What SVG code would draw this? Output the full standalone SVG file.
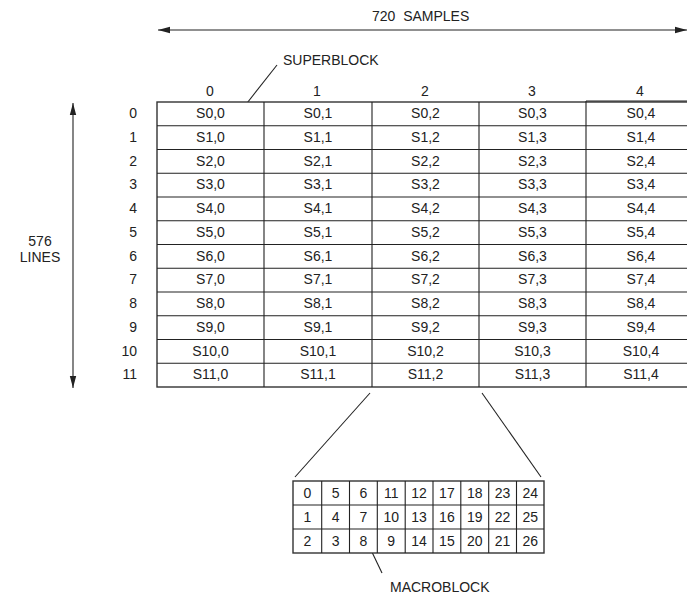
<svg xmlns="http://www.w3.org/2000/svg" width="687" height="598" viewBox="0 0 687 598">
<defs>
<marker id="ah" markerWidth="12" markerHeight="8" refX="12" refY="4" orient="auto-start-reverse" markerUnits="userSpaceOnUse">
<path d="M0,0.8 L12,4 L0,7.2 Z" fill="#222"/>
</marker>
<style>
text{font-family:"Liberation Sans",Arial,sans-serif;font-size:14px;fill:#222}
.c{text-anchor:middle}
.r{text-anchor:end}
.ln{stroke:#222;stroke-width:1.1;fill:none}
.tb{stroke:#333;stroke-width:1.4;fill:#fff}
</style>
</defs>
<rect width="687" height="598" fill="#fff"/>
<g id="connectors">
<line class="ln" x1="158" y1="30" x2="687" y2="30" marker-start="url(#ah)" marker-end="url(#ah)"/>
<line class="ln" x1="73" y1="103" x2="73" y2="388" marker-start="url(#ah)" marker-end="url(#ah)"/>
<line class="ln" x1="277" y1="65" x2="240" y2="112"/>
<line class="ln" x1="370" y1="393" x2="295" y2="477"/>
<line class="ln" x1="482" y1="393" x2="541" y2="477"/>
<line class="ln" x1="370" y1="548" x2="382" y2="573"/>
</g>
<g id="labels">
<text x="372" y="21">720&#160; SAMPLES</text>
<text x="283" y="65">SUPERBLOCK</text>
<text class="c" x="40" y="246">576</text>
<text class="c" x="40" y="262">LINES</text>
<text x="390" y="592">MACROBLOCK</text>
</g>
<g id="colheaders">
<text class="c" x="210" y="96">0</text>
<text class="c" x="317" y="96">1</text>
<text class="c" x="425" y="96">2</text>
<text class="c" x="532" y="96">3</text>
<text class="c" x="640" y="96">4</text>
</g>
<g id="rowheaders">
<text class="r" x="137" y="118">0</text>
<text class="r" x="137" y="141.7">1</text>
<text class="r" x="137" y="165.5">2</text>
<text class="r" x="137" y="189.2">3</text>
<text class="r" x="137" y="213">4</text>
<text class="r" x="137" y="236.7">5</text>
<text class="r" x="137" y="260.5">6</text>
<text class="r" x="137" y="284.2">7</text>
<text class="r" x="137" y="308">8</text>
<text class="r" x="137" y="331.7">9</text>
<text class="r" x="137" y="355.5">10</text>
<text class="r" x="137" y="379.2">11</text>
</g>
<g id="superblocks">
<rect class="tb" x="157" y="102" width="531" height="285"/>
<path class="ln" stroke-width="1.4" d="M264,102V387M372,102V387M479,102V387M586,101V387M586,101H687M157,125.75H687M157,149.5H687M157,173.25H687M157,197H687M157,220.75H687M157,244.5H687M157,268.25H687M157,292H687M157,315.75H687M157,339.5H687M157,363.25H687"/>
<text class="c" x="210.5" y="118">S0,0</text><text class="c" x="318" y="118">S0,1</text><text class="c" x="425.5" y="118">S0,2</text><text class="c" x="532.5" y="118">S0,3</text><text class="c" x="641" y="118">S0,4</text>
<text class="c" x="210.5" y="141.7">S1,0</text><text class="c" x="318" y="141.7">S1,1</text><text class="c" x="425.5" y="141.7">S1,2</text><text class="c" x="532.5" y="141.7">S1,3</text><text class="c" x="641" y="141.7">S1,4</text>
<text class="c" x="210.5" y="165.5">S2,0</text><text class="c" x="318" y="165.5">S2,1</text><text class="c" x="425.5" y="165.5">S2,2</text><text class="c" x="532.5" y="165.5">S2,3</text><text class="c" x="641" y="165.5">S2,4</text>
<text class="c" x="210.5" y="189.2">S3,0</text><text class="c" x="318" y="189.2">S3,1</text><text class="c" x="425.5" y="189.2">S3,2</text><text class="c" x="532.5" y="189.2">S3,3</text><text class="c" x="641" y="189.2">S3,4</text>
<text class="c" x="210.5" y="213">S4,0</text><text class="c" x="318" y="213">S4,1</text><text class="c" x="425.5" y="213">S4,2</text><text class="c" x="532.5" y="213">S4,3</text><text class="c" x="641" y="213">S4,4</text>
<text class="c" x="210.5" y="236.7">S5,0</text><text class="c" x="318" y="236.7">S5,1</text><text class="c" x="425.5" y="236.7">S5,2</text><text class="c" x="532.5" y="236.7">S5,3</text><text class="c" x="641" y="236.7">S5,4</text>
<text class="c" x="210.5" y="260.5">S6,0</text><text class="c" x="318" y="260.5">S6,1</text><text class="c" x="425.5" y="260.5">S6,2</text><text class="c" x="532.5" y="260.5">S6,3</text><text class="c" x="641" y="260.5">S6,4</text>
<text class="c" x="210.5" y="284.2">S7,0</text><text class="c" x="318" y="284.2">S7,1</text><text class="c" x="425.5" y="284.2">S7,2</text><text class="c" x="532.5" y="284.2">S7,3</text><text class="c" x="641" y="284.2">S7,4</text>
<text class="c" x="210.5" y="308">S8,0</text><text class="c" x="318" y="308">S8,1</text><text class="c" x="425.5" y="308">S8,2</text><text class="c" x="532.5" y="308">S8,3</text><text class="c" x="641" y="308">S8,4</text>
<text class="c" x="210.5" y="331.7">S9,0</text><text class="c" x="318" y="331.7">S9,1</text><text class="c" x="425.5" y="331.7">S9,2</text><text class="c" x="532.5" y="331.7">S9,3</text><text class="c" x="641" y="331.7">S9,4</text>
<text class="c" x="210.5" y="355.5">S10,0</text><text class="c" x="318" y="355.5">S10,1</text><text class="c" x="425.5" y="355.5">S10,2</text><text class="c" x="532.5" y="355.5">S10,3</text><text class="c" x="641" y="355.5">S10,4</text>
<text class="c" x="210.5" y="379.2">S11,0</text><text class="c" x="318" y="379.2">S11,1</text><text class="c" x="425.5" y="379.2">S11,2</text><text class="c" x="532.5" y="379.2">S11,3</text><text class="c" x="641" y="379.2">S11,4</text>
</g>
<g id="macroblocks">
<rect class="tb" x="293" y="481" width="251" height="72"/>
<path class="ln" stroke-width="1.4" d="M321.7,481V553M349.5,481V553M377.3,481V553M405.2,481V553M433,481V553M460.8,481V553M488.7,481V553M516.5,481V553M293,505H544M293,529H544"/>
<text class="c" x="307.4" y="498">0</text><text class="c" x="335.6" y="498">5</text><text class="c" x="363.4" y="498">6</text><text class="c" x="391.2" y="498">11</text><text class="c" x="419.1" y="498">12</text><text class="c" x="446.9" y="498">17</text><text class="c" x="474.7" y="498">18</text><text class="c" x="502.6" y="498">23</text><text class="c" x="530.2" y="498">24</text>
<text class="c" x="307.4" y="522">1</text><text class="c" x="335.6" y="522">4</text><text class="c" x="363.4" y="522">7</text><text class="c" x="391.2" y="522">10</text><text class="c" x="419.1" y="522">13</text><text class="c" x="446.9" y="522">16</text><text class="c" x="474.7" y="522">19</text><text class="c" x="502.6" y="522">22</text><text class="c" x="530.2" y="522">25</text>
<text class="c" x="307.4" y="546">2</text><text class="c" x="335.6" y="546">3</text><text class="c" x="363.4" y="546">8</text><text class="c" x="391.2" y="546">9</text><text class="c" x="419.1" y="546">14</text><text class="c" x="446.9" y="546">15</text><text class="c" x="474.7" y="546">20</text><text class="c" x="502.6" y="546">21</text><text class="c" x="530.2" y="546">26</text>
</g>
</svg>
